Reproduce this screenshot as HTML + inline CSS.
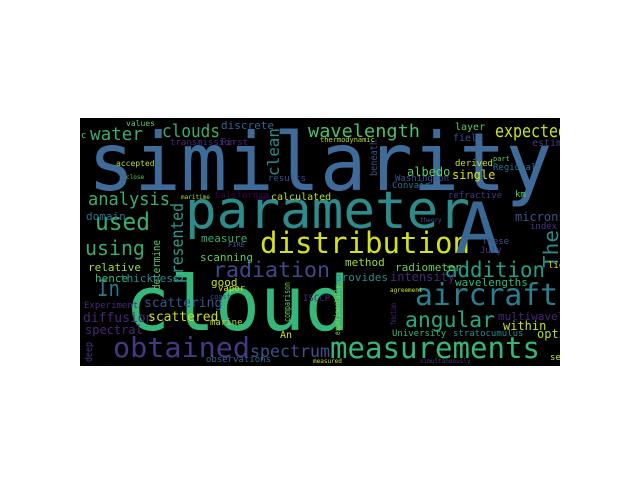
<!DOCTYPE html>
<html><head><meta charset="utf-8"><style>
html,body{margin:0;padding:0;background:#fff;width:640px;height:480px;overflow:hidden}
svg text{font-family:"DejaVu Sans Mono","Liberation Mono",monospace}
</style></head><body>
<svg width="640" height="480">
<defs><clipPath id="clip"><rect x="80" y="118" width="480" height="248"/></clipPath></defs>
<rect x="80" y="118" width="480" height="248" fill="#000"/>
<g id="words" clip-path="url(#clip)"></g>
</svg>
<script>
// [word, x, y(baseline), fontSize, color, rotate, textLength]
const words = [
["similarity",88,190,80,"#3e6b98",0,464],
["parameter",185,228,52,"#2d8b8c",0,285],
["cloud",125,330,76,"#35b77a",0,225],
["distribution",260,253,29,"#d3e21b",0,210],
["A",455,253,70,"#3a6894",0,45],
["obtained",113,357,28,"#443983",0,137],
["measurements",330,358,29,"#35b779",0,210],
["aircraft",415,305,30,"#2a7e8e",0,143],
["angular",405,327,21,"#27a882",0,90],
["addition",445,277,21,"#1fa088",0,100],
["radiation",213,277,21,"#3f4889",0,117],
["wavelength",308,137,18,"#4ac16d",0,112],
["expected",495,137,18,"#c8e020",0,72],
["clouds",162,137,18,"#3aac6e",0,58],
["water",90,140,18,"#3aac6e",0,53],
["analysis",88,205,18,"#3aac6e",0,82],
["used",95,230,24,"#3aac6e",0,55],
["using",85,255,20,"#3aac6e",0,60],
["In",97,296,22,"#2c728e",0,23],
["spectrum",250,357,17,"#3b528b",0,80],
["clean",279,176,16,"#2c8a8c",-90,48],
["presented",183,283,17,"#2a9c88",-90,80],
["The",558,268,20,"#2c8a8c",-90,38],
["determine",160,290,11,"#5ec962",-90,50],
["beneath",377,176,10,"#3b528b",-90,36],
["comparison",290,322,9,"#6ccd5a",-90,40],
["experimentally",340,335,8,"#8fd744",-90,50],
["function",396,325,8,"#482878",-90,22],
["deep",92,362,10,"#443983",-90,20],
["values",126,126,8,"#5ec962",0,0],
["c",81,138,9,"#5ec962",0,0],
["transmission",170,145,9,"#482878",0,0],
["First",221,145,9,"#482878",0,0],
["discrete",221,129,11,"#31688e",0,0],
["accepted",116,166,8,"#b5de2b",0,0],
["close",126,179,6,"#5ec962",0,0],
["results",268,181,9,"#3b528b",0,0],
["maritime",181,199,6,"#b5de2b",0,0],
["California",215,198,9,"#440154",0,0],
["theoretically",255,200,6,"#440154",0,0],
["calculated",271,200,10,"#b5de2b",0,0],
["domain",86,220,11,"#2c728e",0,0],
["measure",201,242,11,"#3aac6e",0,0],
["layer",455,130,10,"#5ec962",0,0],
["field",453,141,10,"#3b528b",0,0],
["thermodynamic",320,142,7,"#b5de2b",0,0],
["estimate",532,146,10,"#443983",0,0],
["derived",455,166,9,"#c8e020",0,0],
["part",493,161,7,"#5ec962",0,0],
["Regional",493,170,9,"#2c728e",0,0],
["albedo",407,176,12,"#5ec962",0,0],
["single",452,179,12,"#d3e21b",0,0],
["Washington",395,181,9,"#3b528b",0,0],
["Convair",392,188,9,"#2c728e",0,0],
["km",515,197,9,"#5ec962",0,0],
["refractive",448,198,9,"#443983",0,0],
["microns",515,221,12,"#3b528b",0,0],
["index",530,229,9,"#443983",0,0],
["theory",420,222,6,"#3b528b",0,0],
["FIRE",228,247,7,"#3b528b",0,0],
["scanning",200,261,11,"#5ec962",0,0],
["relative",88,271,11,"#a0da39",0,0],
["hence",95,282,11,"#35b779",0,0],
["thickness",120,282,11,"#2c8a8c",0,0],
["good",211,286,11,"#c8e020",0,0],
["vapor",218,291,9,"#d3e21b",0,0],
["coast",210,299,7,"#3b528b",0,0],
["Experiment",84,308,9,"#482878",0,0],
["scattering",144,307,13,"#3b528b",0,0],
["ISCCP",303,301,9,"#482878",0,0],
["diffusion",83,322,13,"#482878",0,0],
["scattered",148,321,13,"#c8e020",0,0],
["marine",210,325,9,"#b5de2b",0,0],
["spectral",85,334,12,"#482878",0,0],
["An",280,338,10,"#d3e21b",0,0],
["observations",206,362,9,"#31688e",0,0],
["measured",313,363,6,"#c8e020",0,0],
["These",482,244,9,"#3b528b",0,0],
["July",480,253,9,"#443983",0,0],
["method",345,266,11,"#a0da39",0,0],
["radiometer",395,271,11,"#6ccd5a",0,0],
["liquid",548,268,9,"#c8e020",0,0],
["provides",335,281,11,"#2c8a8c",0,0],
["intensity",390,281,12,"#482878",0,0],
["wavelengths",455,286,11,"#35b779",0,0],
["agreement",390,292,6,"#c8e020",0,0],
["multiwavelength",498,320,11,"#482878",0,0],
["within",503,330,12,"#c8e020",0,0],
["University",392,336,9,"#35b779",0,0],
["stratocumulus",453,336,9,"#2c8a8c",0,0],
["optical",537,338,12,"#b5de2b",0,0],
["section",550,360,9,"#c8e020",0,0],
["simultaneously",420,363,6,"#443983",0,0]
];
const g = document.getElementById('words');
const NS = "http://www.w3.org/2000/svg";
for (const w of words) {
  const t = document.createElementNS(NS, 'text');
  
  
  t.setAttribute('x', w[1]);
  t.setAttribute('y', w[2]);
  t.setAttribute('font-size', w[3]);
  t.setAttribute('fill', w[4]);
  if (w[5]) t.setAttribute('transform', `rotate(${w[5]} ${w[1]} ${w[2]})`);
  if (w[6]) { t.setAttribute('textLength', w[6]); t.setAttribute('lengthAdjust', 'spacingAndGlyphs'); }
  t.textContent = w[0];
  g.appendChild(t);
}
</script>
</body></html>
